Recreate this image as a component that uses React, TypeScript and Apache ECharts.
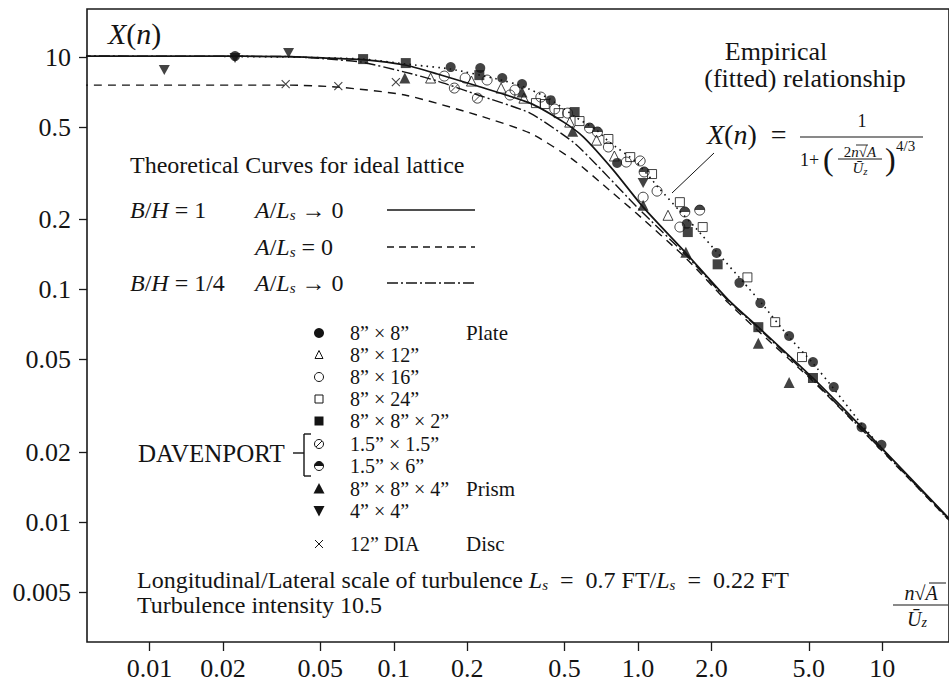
import React, { useEffect, useRef } from "react";
import * as echarts from "echarts";

// ---------- axis ticks ----------
const X_TICKS = [0.01, 0.02, 0.05, 0.1, 0.2, 0.5, 1, 2, 5, 10];
const X_TICK_LABELS = ["0.01", "0.02", "0.05", "0.1", "0.2", "0.5", "1.0", "2.0", "5.0", "10"];
const Y_TICKS = [1, 0.5, 0.2, 0.1, 0.05, 0.02, 0.01, 0.005];
const Y_TICK_LABELS = ["10", "0.5", "0.2", "0.1", "0.05", "0.02", "0.01", "0.005"];
const X_RANGE = [0.00555, 18.74];
const Y_RANGE = [0.00305, 1.613];

// ---------- theoretical / empirical curves (n*sqrt(A)/Uz , X(n)) ----------
const solidF = [0.005, 0.016, 0.0371, 0.054, 0.0749, 0.111, 0.151, 0.22, 0.361, 0.496, 0.598, 0.792, 1.049, 1.569, 2.346, 3.107, 5.2, 8.22, 17.39, 19.64];
const solidX = [1.012, 1.012, 1.007, 0.992, 0.977, 0.926, 0.847, 0.752, 0.635, 0.526, 0.4535, 0.327, 0.2266, 0.1438, 0.0902, 0.069, 0.04165, 0.02563, 0.01126, 0.00985];

const dashedF = [0.0052, 0.0361, 0.0593, 0.111, 0.2197, 0.361, 0.5447, 0.7629, 0.9823, 1.569, 2.346, 3.107, 5.199, 8.222, 19.64];
const dashedX = [0.759, 0.759, 0.744, 0.688, 0.564, 0.472, 0.361, 0.2683, 0.2136, 0.1368, 0.0876, 0.0664, 0.0404, 0.0249, 0.0097];

const dashDotF = [0.0052, 0.0371, 0.054, 0.0735, 0.111, 0.151, 0.2197, 0.361, 0.5447, 0.6757, 1.01, 1.569, 2.346, 3.107, 5.199, 8.222, 19.64];
const dashDotX = [1.012, 1.007, 0.982, 0.9536, 0.8636, 0.79, 0.69, 0.575, 0.43, 0.345, 0.222, 0.1411, 0.0893, 0.0684, 0.0408, 0.0251, 0.0098];

const dottedF = [0.0202, 0.0371, 0.0749, 0.1218, 0.1707, 0.265, 0.3348, 0.4351, 0.5549, 0.6757, 0.7629, 0.9823, 1.218, 1.469, 1.723, 2.136, 2.674, 3.225, 4.114, 5.15, 6.387, 8.456, 11.2, 18.74];
const dottedX = [1.007, 1.002, 0.982, 0.926, 0.89, 0.806, 0.752, 0.661, 0.553, 0.486, 0.4316, 0.354, 0.2736, 0.2201, 0.1841, 0.1423, 0.1089, 0.0867, 0.0632, 0.0488, 0.037, 0.0254, 0.0181, 0.0102];

// ---------- measured points [n*sqrt(A)/Uz, X(n)] ----------
const plate8x8 = [[0.0224, 1.012], [0.171, 0.907], [0.226, 0.899], [0.278, 0.814], [0.335, 0.767], [0.439, 0.654], [0.821, 0.351], [1.583, 0.192], [2.097, 0.144], [2.6, 0.107], [3.166, 0.0876], [4.153, 0.0632], [5.199, 0.0488], [6.327, 0.0381], [8.222, 0.0256], [9.915, 0.0215]];
const plate8x12 = [[0.1415, 0.814], [0.208, 0.79], [0.275, 0.737], [0.341, 0.667], [0.525, 0.526], [0.676, 0.44], [0.8, 0.376], [1.326, 0.209]];
const plate8x16 = [[0.161, 0.83], [0.196, 0.814], [0.241, 0.798], [0.299, 0.688], [0.3135, 0.723], [0.4, 0.674], [0.456, 0.599], [0.515, 0.575], [0.756, 0.411], [0.895, 0.354], [1.049, 0.25], [1.483, 0.186], [1.196, 0.2655]];
const plate8x24 = [[0.382, 0.635], [0.415, 0.629], [0.473, 0.575], [0.576, 0.5315], [0.756, 0.445], [0.929, 0.372], [1.141, 0.3145], [1.483, 0.238], [1.839, 0.186], [2.803, 0.113], [3.642, 0.0725], [4.689, 0.0513]];
const block8x8x2 = [[0.0749, 0.982], [0.112, 0.944], [0.224, 0.838], [0.55, 0.581], [1.598, 0.177], [2.117, 0.1286], [3.107, 0.069], [5.199, 0.0417]];
const dav15x15 = [[0.177, 0.737], [0.22, 0.667], [1.02, 0.358]];
const dav15x6 = [[0.633, 0.496], [0.682, 0.477], [1.059, 0.321], [1.554, 0.216], [1.788, 0.22]];
const prism8x8x4 = [[0.111, 0.814], [0.335, 0.708], [0.54, 0.481], [1.049, 0.231], [1.569, 0.145], [3.107, 0.0589], [4.153, 0.0399]];
const prism4x4 = [[0.0115, 0.881], [0.0224, 0.992], [0.0371, 1.042], [1.049, 0.2875]];
const disc12 = [[0.0361, 0.767], [0.0593, 0.752], [0.102, 0.782]];

const LEGEND_SIZES = ["8” × 8”", "8” × 12”", "8” × 16”", "8” × 24”", "8” × 8” × 2”", "1.5” × 1.5”", "1.5” × 6”", "8” × 8” × 4”", "4” × 4”", "12” DIA"];
const LEGEND_KINDS = ["Plate", "", "", "", "", "", "", "Prism", "", "Disc"];

const SERIF = "'Liberation Serif', 'Times New Roman', serif";
const INK = "#141414";
const L = Math.log10;
const EN = "\u2002";

const SYM_SLASH = "path://M10,0A10,10,0,1,1,9.999,0ZM3,17L17,3";
const SYM_HALF = "path://M0,10A10,10,0,0,1,20,10Z";
const SYM_DOWN = "path://M0,0L20,0L10,18Z";
const SYM_CROSS = "path://M0,0L10,10M10,0L0,10";

function curve(fs: number[], xs: number[]) {
  return fs.map((f, i) => [L(f), L(xs[i])]);
}
function pts(p: number[][]) {
  return p.map(([f, x]) => [L(f), L(x)]);
}

function labelFor(ticks: number[], labels: string[]) {
  return (v: number) => {
    const i = ticks.findIndex((t) => Math.abs(L(t) - v) < 1e-6);
    return i >= 0 ? labels[i] : "";
  };
}

const RICH = {
  i: { fontStyle: "italic", fontFamily: SERIF, fontSize: 24, fill: INK },
  s: { fontStyle: "italic", fontFamily: SERIF, fontSize: 15, fill: INK, verticalAlign: "bottom", padding: [10, 0, 0, 0] },
};

function txt(x: number, y: number, text: string, size: number, o: any = {}) {
  return {
    type: "text",
    x,
    y,
    silent: true,
    z: 10,
    style: {
      text,
      fill: INK,
      fontSize: size,
      fontFamily: SERIF,
      fontStyle: o.italic ? "italic" : "normal",
      align: o.align || "left",
      textAlign: o.align || "left",
      verticalAlign: "middle",
      textVerticalAlign: "middle",
      rich: o.rich,
    },
  };
}
function seg(x1: number, y1: number, x2: number, y2: number, w = 1.4, dash: any = null) {
  return {
    type: "line",
    silent: true,
    z: 10,
    shape: { x1, y1, x2, y2 },
    style: { stroke: INK, lineWidth: w, lineDash: dash },
  };
}

function legendMarker(i: number, cx: number, cy: number): any[] {
  const r = 4.5;
  const open = { stroke: INK, lineWidth: 1, fill: "none" };
  const solid = { fill: INK };
  switch (i) {
    case 0:
      return [{ type: "circle", shape: { cx, cy, r: 5 }, style: solid }];
    case 1:
      return [{ type: "polygon", shape: { points: [[cx, cy - 4.5], [cx + 4, cy + 3.5], [cx - 4, cy + 3.5]] }, style: open }];
    case 2:
      return [{ type: "circle", shape: { cx, cy, r }, style: open }];
    case 3:
      return [{ type: "rect", shape: { x: cx - 4, y: cy - 4, width: 8, height: 8 }, style: open }];
    case 4:
      return [{ type: "rect", shape: { x: cx - 4.5, y: cy - 4.5, width: 9, height: 9 }, style: solid }];
    case 5:
      return [
        { type: "circle", shape: { cx, cy, r }, style: open },
        { type: "line", shape: { x1: cx - 3, y1: cy + 3, x2: cx + 3, y2: cy - 3 }, style: { stroke: INK, lineWidth: 1 } },
      ];
    case 6:
      return [
        { type: "circle", shape: { cx, cy, r }, style: open },
        { type: "sector", shape: { cx, cy, r0: 0, r, startAngle: Math.PI, endAngle: Math.PI * 2 }, style: solid },
      ];
    case 7:
      return [{ type: "polygon", shape: { points: [[cx, cy - 6], [cx + 5.5, cy + 4.5], [cx - 5.5, cy + 4.5]] }, style: solid }];
    case 8:
      return [{ type: "polygon", shape: { points: [[cx - 5.5, cy - 5], [cx + 5.5, cy - 5], [cx, cy + 5.5]] }, style: solid }];
    default:
      return [
        { type: "line", shape: { x1: cx - 4, y1: cy - 4, x2: cx + 4, y2: cy + 4 }, style: { stroke: INK, lineWidth: 1 } },
        { type: "line", shape: { x1: cx + 4, y1: cy - 4, x2: cx - 4, y2: cy + 4 }, style: { stroke: INK, lineWidth: 1 } },
      ];
  }
}

function buildOption() {
  const lineS = (name: string, f: number[], x: number[], type: any, width = 1.5) => ({
    name,
    type: "line",
    data: curve(f, x),
    showSymbol: false,
    smooth: 0.2,
    clip: true,
    silent: true,
    z: 2,
    lineStyle: { color: INK, width, type },
  });
  const open = { color: "rgba(0,0,0,0)", borderColor: INK, borderWidth: 1 };
  const filled = { color: INK };
  const scat = (name: string, data: number[][], symbol: string, size: any, itemStyle: any, extra: any = {}) => ({
    name,
    type: "scatter",
    data: pts(data),
    symbol,
    symbolSize: size,
    itemStyle,
    silent: true,
    z: 5,
    ...extra,
  });

  const legendRows = [333, 355, 377, 399, 421, 444, 466, 489, 511, 544];
  const graphic: any[] = [];
  // y axis title
  graphic.push(txt(108, 33, "{i|X}({i|n})", 30, { rich: { i: { ...RICH.i, fontSize: 30 } } }));
  // theoretical legend
  graphic.push(txt(130, 165, "Theoretical Curves for ideal lattice", 24));
  graphic.push(txt(130, 210, "{i|B}/{i|H} = 1", 24, { rich: RICH }));
  graphic.push(txt(255, 210, "{i|A}/{i|L}{s|s} → 0", 24, { rich: RICH }));
  graphic.push(seg(387, 210, 475, 210, 1.6));
  graphic.push(txt(255, 247, "{i|A}/{i|L}{s|s} = 0", 24, { rich: RICH }));
  graphic.push(seg(387, 247, 475, 247, 1.4, [7, 5]));
  graphic.push(txt(130, 283, "{i|B}/{i|H} = 1/4", 24, { rich: RICH }));
  graphic.push(txt(255, 283, "{i|A}/{i|L}{s|s} → 0", 24, { rich: RICH }));
  graphic.push(seg(387, 283, 475, 283, 1.4, [11, 3, 2, 3]));
  // marker legend
  LEGEND_SIZES.forEach((t, i) => {
    const y = legendRows[i];
    legendMarker(i, 319, y).forEach((m) => graphic.push({ ...m, silent: true, z: 10 }));
    graphic.push(txt(350, y, t, 20));
    if (LEGEND_KINDS[i]) graphic.push(txt(466, y, LEGEND_KINDS[i], 21));
  });
  graphic.push(txt(138, 453, "DAVENPORT", 25));
  graphic.push(seg(293, 453, 304, 453, 1.4));
  graphic.push(seg(304, 434, 304, 476, 1.4));
  graphic.push(seg(304, 434, 311, 434, 1.4));
  graphic.push(seg(304, 476, 311, 476, 1.4));
  // empirical label
  graphic.push(txt(776, 51, "Empirical", 26, { align: "center" }));
  graphic.push(txt(805, 78, "(fitted) relationship", 26, { align: "center" }));
  // formula
  graphic.push(txt(707, 134, "{i|X}({i|n})" + EN + "=", 28, { rich: { i: { ...RICH.i, fontSize: 28 } } }));
  graphic.push(txt(862, 121, "1", 18, { align: "center" }));
  graphic.push(seg(800, 137, 923, 137, 1.2));
  graphic.push(txt(800, 160, "1+", 18));
  graphic.push(txt(823, 159, "(", 32));
  graphic.push(txt(860, 152, "2{i|n}√{i|A}", 15, { align: "center", rich: { i: { ...RICH.i, fontSize: 15 } } }));
  graphic.push(seg(838, 159, 882, 159, 1));
  graphic.push(seg(856, 145, 868, 145, 0.9));
  graphic.push(txt(860, 168, "{i|Ū}{s|z}", 15, { align: "center", rich: { i: { ...RICH.i, fontSize: 15 }, s: { ...RICH.s, fontSize: 11, padding: [5, 0, 0, 0] } } }));
  graphic.push(txt(885, 159, ")", 32));
  graphic.push(txt(896, 146, "4/3", 15));
  graphic.push(seg(714, 153, 672, 193, 1));
  // bottom notes
  graphic.push(txt(137, 580, "Longitudinal/Lateral scale of turbulence {i|L}{s|s}" + EN + "=" + EN + "0.7 FT/{i|L}{s|s}" + EN + "=" + EN + "0.22 FT", 24, { rich: RICH }));
  graphic.push(txt(137, 605, "Turbulence intensity 10.5", 24));
  // x-axis title
  graphic.push(txt(921, 593, "{i|n}√{i|A}", 20, { align: "center", rich: { i: { ...RICH.i, fontSize: 20 } } }));
  graphic.push(seg(929, 583, 946, 583, 1));
  graphic.push(seg(893, 605, 948, 605, 1.2));
  graphic.push(txt(917, 619, "{i|Ū}{s|z}", 20, { align: "center", rich: { i: { ...RICH.i, fontSize: 20 }, s: { ...RICH.s, fontSize: 14, padding: [7, 0, 0, 0] } } }));

  const xVals = X_TICKS.map(L);
  const yVals = Y_TICKS.map(L);

  return {
    animation: false,
    backgroundColor: "#ffffff",
    textStyle: { fontFamily: SERIF, color: INK },
    grid: { left: 87, top: 9, width: 868, height: 633, show: true, borderColor: "#1a1a1a", borderWidth: 1.6, backgroundColor: "transparent" },
    xAxis: {
      type: "value",
      position: "bottom",
      min: L(X_RANGE[0]),
      max: L(X_RANGE[1]),
      axisLine: { show: false, onZero: false },
      splitLine: { show: false },
      axisTick: { show: true, customValues: xVals, length: 9, lineStyle: { color: "#1a1a1a", width: 1.3 } },
      axisLabel: { customValues: xVals, formatter: labelFor(X_TICKS, X_TICK_LABELS), fontSize: 26, fontFamily: SERIF, color: INK, margin: 13 },
    },
    yAxis: {
      type: "value",
      position: "left",
      min: L(Y_RANGE[0]),
      max: L(Y_RANGE[1]),
      axisLine: { show: false, onZero: false },
      splitLine: { show: false },
      axisTick: { show: true, customValues: yVals, length: 8, lineStyle: { color: "#1a1a1a", width: 1.3 } },
      axisLabel: { customValues: yVals, formatter: labelFor(Y_TICKS, Y_TICK_LABELS), fontSize: 26, fontFamily: SERIF, color: INK, margin: 16 },
    },
    series: [
      lineS("B/H=1, A/Ls→0", solidF, solidX, "solid", 1.7),
      lineS("B/H=1, A/Ls=0", dashedF, dashedX, [8, 6], 1.4),
      lineS("B/H=1/4, A/Ls→0", dashDotF, dashDotX, [11, 3, 2, 3], 1.4),
      lineS("Empirical", dottedF, dottedX, [1.6, 4.2], 1.6),
      scat("8x8 Plate", plate8x8, "circle", 10, filled),
      scat("8x12", plate8x12, "triangle", 10, open),
      scat("8x16", plate8x16, "circle", 10, open),
      scat("8x24", plate8x24, "rect", 9, open),
      scat("8x8x2", block8x8x2, "rect", 10, filled),
      scat("1.5x1.5", dav15x15, SYM_SLASH, 10, open),
      scat("1.5x6 ring", dav15x6, "circle", 10, open),
      scat("1.5x6", dav15x6, SYM_HALF, [10, 5], filled, { symbolOffset: [0, -2.5] }),
      scat("8x8x4 Prism", prism8x8x4, "triangle", 11, filled),
      scat("4x4", prism4x4, SYM_DOWN, [11, 10], filled),
      scat("12 DIA Disc", disc12, SYM_CROSS, 8, { color: "rgba(0,0,0,0)", borderColor: INK, borderWidth: 1.1 }),
    ],
    graphic,
  };
}

export default function App() {
  const ref = useRef<HTMLDivElement>(null);
  useEffect(() => {
    if (!ref.current) return;
    const chart = echarts.init(ref.current, null, { renderer: "svg" });
    chart.setOption(buildOption() as any);
    return () => chart.dispose();
  }, []);
  return (
    <div
      ref={ref}
      style={{ position: "fixed", left: 0, top: 0, width: 949, height: 684, background: "#fff" }}
    />
  );
}
